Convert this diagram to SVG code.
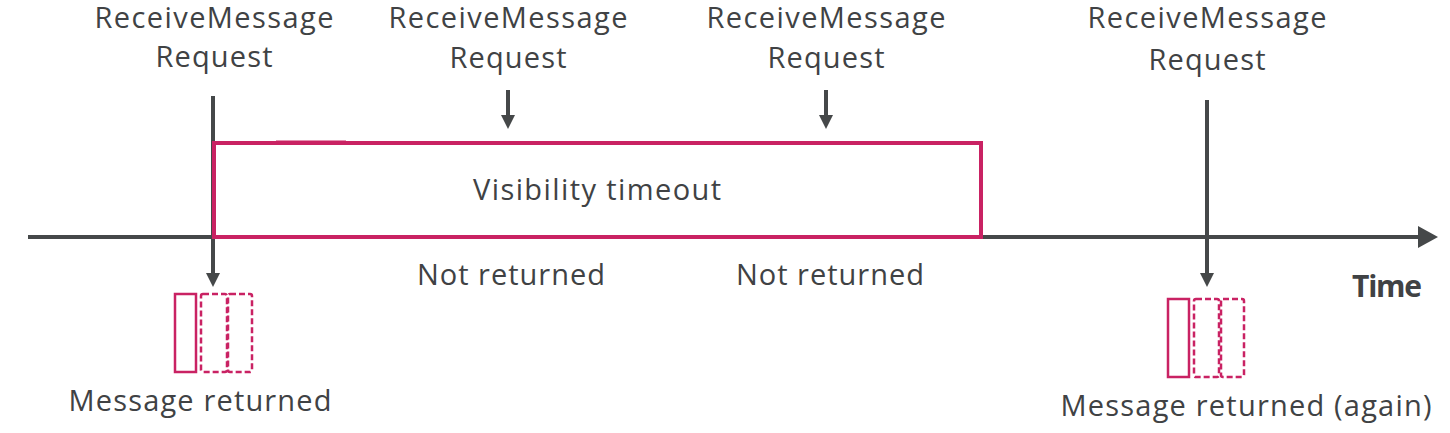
<svg xmlns="http://www.w3.org/2000/svg" width="1450" height="433" viewBox="0 0 1450 433">
<defs>
<marker id="ahs" markerWidth="14" markerHeight="14" refX="7" refY="7" orient="auto" markerUnits="userSpaceOnUse" viewBox="0 0 14 14"><path d="M0,0 L14,7 L0,14 z" fill="#454849"/></marker>
<marker id="ahb" markerWidth="20" markerHeight="22" refX="10" refY="11" orient="auto" markerUnits="userSpaceOnUse" viewBox="0 0 20 22"><path d="M0,0 L20,11 L0,22 z" fill="#454849"/></marker>
</defs>
<style>
text{font-family:"Open Sans","Liberation Sans",sans-serif;font-size:29px;fill:#404244;text-anchor:middle}
.ln{stroke:#454849;stroke-width:4;fill:none}
.pk{stroke:#C92263;stroke-width:4;fill:none}
.msg{stroke:#C92263;stroke-width:2.5;fill:#fff}
.dash{stroke:#C92263;stroke-width:2.5;fill:none;stroke-dasharray:6,3}
</style>
<g id="connectors">
<line class="ln" x1="28" y1="237" x2="1428" y2="237" marker-end="url(#ahb)"/>
<line class="ln" x1="213" y1="96" x2="213" y2="280" marker-end="url(#ahs)"/>
<line class="ln" x1="1207" y1="100" x2="1207" y2="280" marker-end="url(#ahs)"/>
<line class="ln" x1="508" y1="90" x2="508" y2="122" marker-end="url(#ahs)"/>
<line class="ln" x1="826" y1="90" x2="826" y2="122" marker-end="url(#ahs)"/>
</g>
<g id="visibility">
<rect class="pk" x="214" y="143" width="767" height="94"/>
<line x1="276" y1="142" x2="346" y2="142" stroke="#C92263" stroke-width="3"/>
<text x="597" y="200" textLength="248">Visibility timeout</text>
</g>
<g id="req1"><text x="214" y="28" textLength="239">ReceiveMessage</text><text x="214" y="67" textLength="117">Request</text></g>
<g id="req2"><text x="508" y="28" textLength="239">ReceiveMessage</text><text x="508" y="68" textLength="117">Request</text></g>
<g id="req3"><text x="826" y="28" textLength="239">ReceiveMessage</text><text x="826" y="68" textLength="117">Request</text></g>
<g id="req4"><text x="1207" y="28" textLength="239">ReceiveMessage</text><text x="1207" y="70" textLength="117">Request</text></g>
<g id="nr1"><text x="511" y="285" textLength="188">Not returned</text></g>
<g id="nr2"><text x="830" y="285" textLength="188">Not returned</text></g>
<g id="time"><text x="1387" y="297" style="font-weight:bold;font-size:30px" textLength="70">Time</text></g>
<g id="msg1">
<rect class="msg" x="175" y="294" width="21" height="78"/>
<rect class="dash" x="201" y="294" width="26" height="78" rx="2"/>
<rect class="dash" x="228" y="294" width="24" height="78" rx="2"/>
<text x="200" y="411" textLength="263">Message returned</text>
</g>
<g id="msg2">
<rect class="msg" x="1168" y="299" width="21" height="78"/>
<rect class="dash" x="1194" y="299" width="25" height="78" rx="2"/>
<rect class="dash" x="1221" y="299" width="23" height="78" rx="2"/>
<text x="1246" y="416" textLength="371">Message returned (again)</text>
</g>
</svg>
